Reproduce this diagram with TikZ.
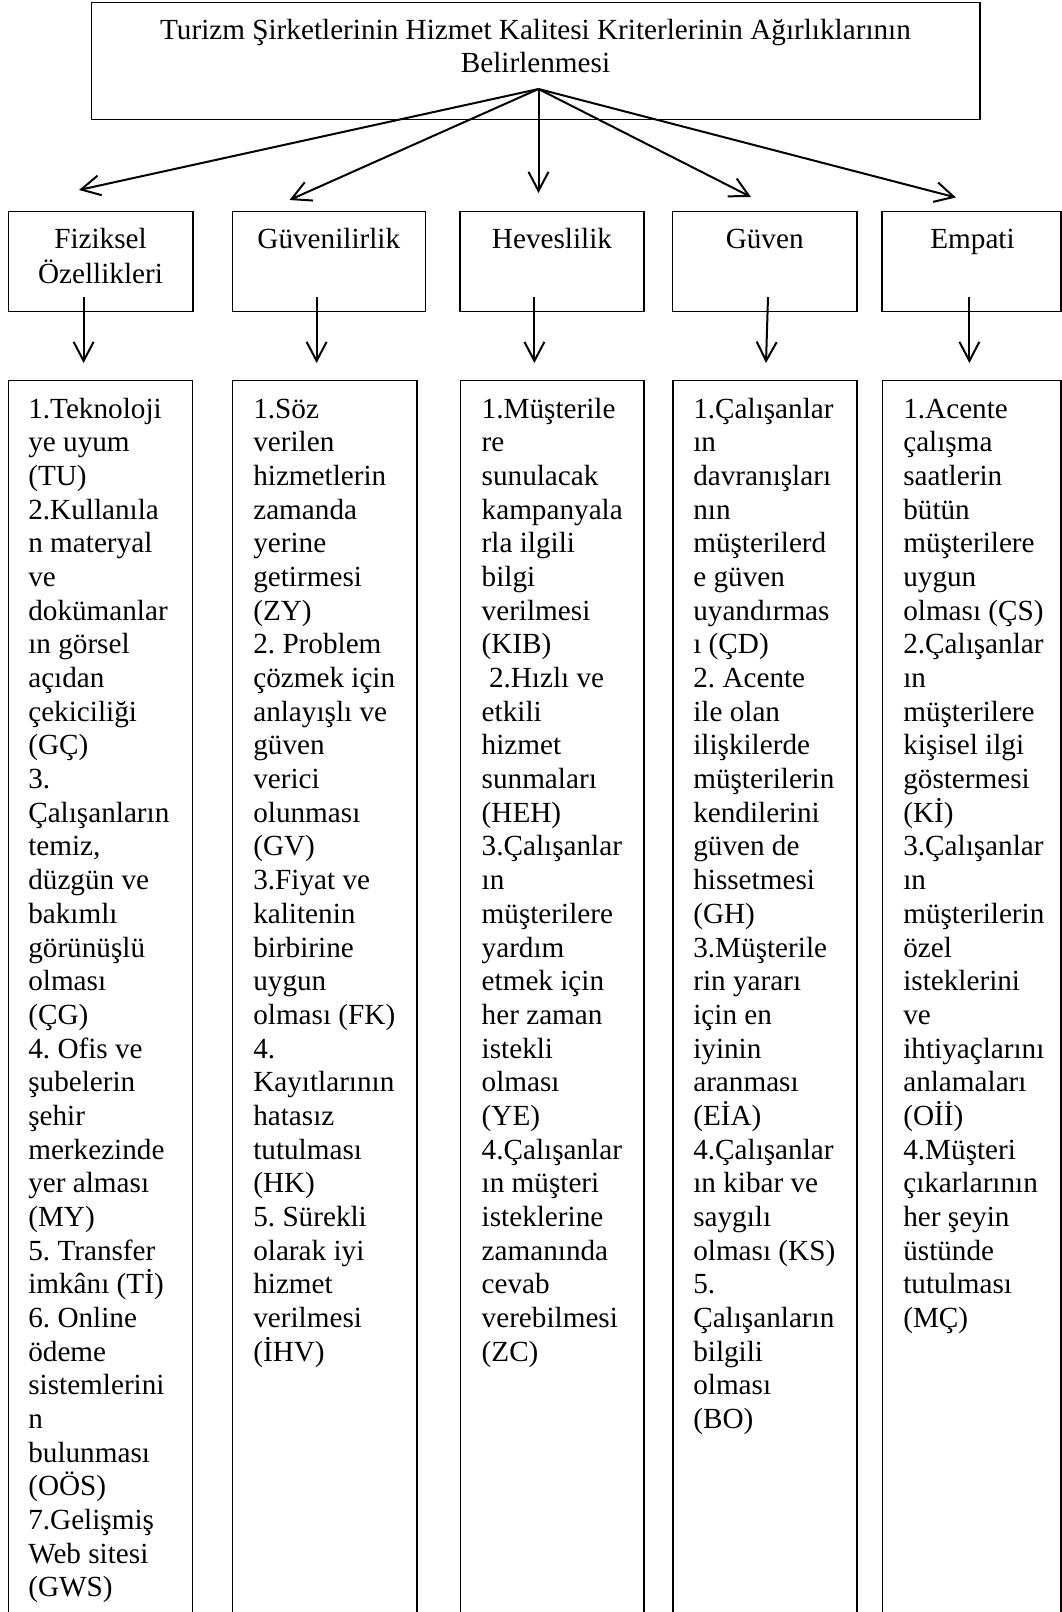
\documentclass[tikz,border=0pt]{standalone}
\usepackage{fontspec}
\setmainfont[Ligatures=CommonOff]{Liberation Serif}
\usetikzlibrary{arrows.meta,fit}
\frenchspacing
\tikzset{
  box/.style={draw, line width=1.6pt, rectangle, inner sep=0pt, outer sep=0pt},
  txt/.style={inner sep=0pt, outer sep=0pt, align=left, anchor=north west,
              font=\fontsize{29.2}{33.67}\selectfont\frenchspacing},
  ctxt/.style={inner sep=0pt, outer sep=0pt, align=center, anchor=north,
              font=\fontsize{29.2}{33.67}\selectfont\frenchspacing},
  arr/.style={line width=2pt, -{Straight Barb[length=19pt,width=20pt]}},
}
\begin{document}
\begin{tikzpicture}[x=1pt,y=-1pt]
\path[use as bounding box, clip] (0,0) rectangle (1062,1612);
\fill[white] (0,0) rectangle (1062,1612);

% top box
\node[box, fit={(91.4,2.5) (979.7,119.5)}] (top) {};
\node[ctxt] (toptxt) at (535.5,15.7) {\strut Turizm Şirketlerinin Hizmet Kalitesi Kriterlerinin Ağırlıklarının\\Belirlenmesi};

% middle boxes
\node[box, fit={(8.3,211.5) (192.8,311.5)}] (m1) {};
\node[box, fit={(232.3,211.5) (425.3,311.5)}] (m2) {};
\node[box, fit={(460,211.5) (644,311.5)}] (m3) {};
\node[box, fit={(672.5,211.5) (857,311.5)}] (m4) {};
\node[box, fit={(882,211.5) (1061,311.5)}] (m5) {};

\node[ctxt] (m1t) at (100.5,224.7) {\strut Fiziksel\\Özellikleri};
\node[ctxt] (m2t) at (328.8,224.7) {\strut Güvenilirlik};
\node[ctxt] (m3t) at (552,224.7) {\strut Heveslilik};
\node[ctxt] (m4t) at (764.7,224.7) {\strut Güven};
\node[ctxt] (m5t) at (972.5,224.7) {\strut Empati};

% bottom boxes
\node[box, fit={(8.3,380.5) (192.5,1640)}] (b1) {};
\node[box, fit={(232.3,380.5) (416.8,1640)}] (b2) {};
\node[box, fit={(460.5,380.5) (644,1640)}] (b3) {};
\node[box, fit={(672.8,380.5) (857,1640)}] (b4) {};
\node[box, fit={(882.5,380.5) (1061,1640)}] (b5) {};

\node[txt] (b1t) at (28.3,394.7) {\strut 1.Teknoloji\\ye uyum\\(TU)\\2.Kullanıla\\n materyal\\ve\\dokümanlar\\ın görsel\\açıdan\\çekiciliği\\(GÇ)\\3.\\Çalışanların\\temiz,\\düzgün ve\\bakımlı\\görünüşlü\\olması\\(ÇG)\\4. Ofis ve\\şubelerin\\şehir\\merkezinde\\yer alması\\(MY)\\5. Transfer\\imkânı (Tİ)\\6. Online\\ödeme\\sistemlerini\\n\\bulunması\\(OÖS)\\7.Gelişmiş\\Web sitesi\\(GWS)};

\node[txt] (b2t) at (253.3,394.7) {\strut 1.Söz\\verilen\\hizmetlerin\\zamanda\\yerine\\getirmesi\\(ZY)\\2. Problem\\çözmek için\\anlayışlı ve\\güven\\verici\\olunması\\(GV)\\3.Fiyat ve\\kalitenin\\birbirine\\uygun\\olması (FK)\\4.\\Kayıtlarının\\hatasız\\tutulması\\(HK)\\5. Sürekli\\olarak iyi\\hizmet\\verilmesi\\(İHV)};

\node[txt] (b3t) at (481.7,394.7) {\strut 1.Müşterile\\re\\sunulacak\\kampanyala\\rla ilgili\\bilgi\\verilmesi\\(KIB)\\\hspace*{7.3pt}2.Hızlı ve\\etkili\\hizmet\\sunmaları\\(HEH)\\3.Çalışanlar\\ın\\müşterilere\\yardım\\etmek için\\her zaman\\istekli\\olması\\(YE)\\4.Çalışanlar\\ın müşteri\\isteklerine\\zamanında\\cevab\\verebilmesi\\(ZC)};

\node[txt] (b4t) at (693.3,394.7) {\strut 1.Çalışanlar\\ın\\davranışları\\nın\\müşterilerd\\e güven\\uyandırmas\\ı (ÇD)\\2. Acente\\ile olan\\ilişkilerde\\müşterilerin\\kendilerini\\güven de\\hissetmesi\\(GH)\\3.Müşterile\\rin yararı\\için en\\iyinin\\aranması\\(EİA)\\4.Çalışanlar\\ın kibar ve\\saygılı\\olması (KS)\\5.\\Çalışanların\\bilgili\\olması\\(BO)};

\node[txt] (b5t) at (903.3,394.7) {\strut 1.Acente\\çalışma\\saatlerin\\bütün\\müşterilere\\uygun\\olması (ÇS)\\2.Çalışanlar\\ın\\müşterilere\\kişisel ilgi\\göstermesi\\(Kİ)\\3.Çalışanlar\\ın\\müşterilerin\\özel\\isteklerini\\ve\\ihtiyaçlarını\\anlamaları\\(Oİİ)\\4.Müşteri\\çıkarlarının\\her şeyin\\üstünde\\tutulması\\(MÇ)};

% arrows from the top box
\coordinate (hub) at (538.5,89);
\coordinate (t1) at (79,190);
\coordinate (t2) at (289.5,200);
\coordinate (t3) at (538.5,193);
\coordinate (t4) at (751,197);
\coordinate (t5) at (956,197.5);
\draw[arr] (hub) -- (t1);
\draw[arr] (hub) -- (t2);
\draw[arr] (hub) -- (t3);
\draw[arr] (hub) -- (t4);
\draw[arr] (hub) -- (t5);

% arrows from middle boxes to bottom boxes
\coordinate (s1) at (83.6,297);   \coordinate (e1) at (83.6,363);
\coordinate (s2) at (316.6,297);  \coordinate (e2) at (316.6,363);
\coordinate (s3) at (534.4,297);  \coordinate (e3) at (534.4,363);
\coordinate (s4) at (768,297);    \coordinate (e4) at (766,363);
\coordinate (s5) at (969.4,297);  \coordinate (e5) at (969.4,363);
\draw[arr] (s1) -- (e1);
\draw[arr] (s2) -- (e2);
\draw[arr] (s3) -- (e3);
\draw[arr] (s4) -- (e4);
\draw[arr] (s5) -- (e5);
\end{tikzpicture}
\end{document}
